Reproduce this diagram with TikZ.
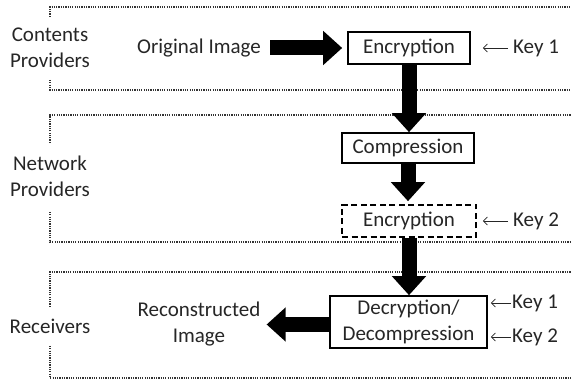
\documentclass[tikz,border=0pt]{standalone}
\usepackage{fontspec}
\setmainfont{Carlito}
\usetikzlibrary{arrows.meta}
\begin{document}
\begin{tikzpicture}[x=1pt,y=-1pt,
  every node/.style={font=\fontsize{21}{26}\selectfont, text=black!85},
  stage/.style={draw=black, line width=1.6pt, inner sep=0pt, align=center},
  zonelabel/.style={align=center, inner sep=1pt},
  keylabel/.style={anchor=west, inner sep=1pt},
  zone/.style={line width=1.3pt, dash pattern=on 1.2pt off 1.1pt, black!80},
  bigarrow/.style={line width=15pt, -{Triangle[width=33pt,length=19pt]}},
  keyarrow/.style={line width=0.8pt, black!85, -{Straight Barb[length=4pt,width=8pt]}}]
\useasboundingbox (0,0) rectangle (571,382);

% dotted frames of the three parties
\draw[zone] (50,17) -- (50,7) -- (571,7);
\draw[zone] (50,80) -- (50,90) -- (571,90);
\draw[zone] (50,143) -- (50,115) -- (571,115);
\draw[zone] (50,212) -- (50,242) -- (571,242);
\draw[zone] (50,307) -- (50,272) -- (571,272);
\draw[zone] (50,346) -- (50,378) -- (571,378);

% party names
\node[zonelabel] (cp) at (50,48) {Contents\\Providers};
\node[zonelabel] (np) at (50,176) {Network\\Providers};
\node[zonelabel] (rc) at (50,326) {Receivers};

% processing stages
\node[stage, minimum width=122pt, minimum height=32pt] (enc1) at (409,48) {Encryption};
\node[stage, minimum width=132pt, minimum height=30pt] (comp) at (408,148) {Compression};
\node[stage, dash pattern=on 6pt off 3.5pt, minimum width=134pt, minimum height=32pt] (enc2) at (409,221) {Encryption};
\node[stage, minimum width=157pt, minimum height=52pt] (dec) at (408.5,322) {Decryption/\\Decompression};

% image labels
\node (orig) at (199,48) {Original Image};
\node[align=center, inner sep=0pt] (recon) at (199,324.5) {Reconstructed\\Image};

% keys
\node[keylabel] (k1) at (512,48) {Key 1};
\node[keylabel] (k2) at (512,221) {Key 2};
\node[keylabel] (dk1) at (511,303) {Key 1};
\node[keylabel] (dk2) at (511,337) {Key 2};

% main data flow
\draw[bigarrow, shorten <=6pt, shorten >=5pt] (orig.east) -- (enc1.west);
\draw[bigarrow] (enc1.south) -- (enc1.south |- comp.north);
\draw[bigarrow, shorten >=3pt] (comp.south) -- (comp.south |- enc2.north);
\draw[bigarrow] (enc2.south) -- (enc2.south |- dec.north);
\draw[bigarrow, shorten >=6pt] (dec.west |- recon) -- (recon.east);

% key inputs
\draw[keyarrow, shorten <=4pt, shorten >=12pt] (k1.west) -- (enc1.east);
\draw[keyarrow, shorten <=4pt, shorten >=6pt] (k2.west) -- (enc2.east);
\draw[keyarrow, shorten >=3pt] (dk1.west) -- (dec.east |- dk1);
\draw[keyarrow, shorten >=3pt] (dk2.west) -- (dec.east |- dk2);
\end{tikzpicture}
\end{document}
